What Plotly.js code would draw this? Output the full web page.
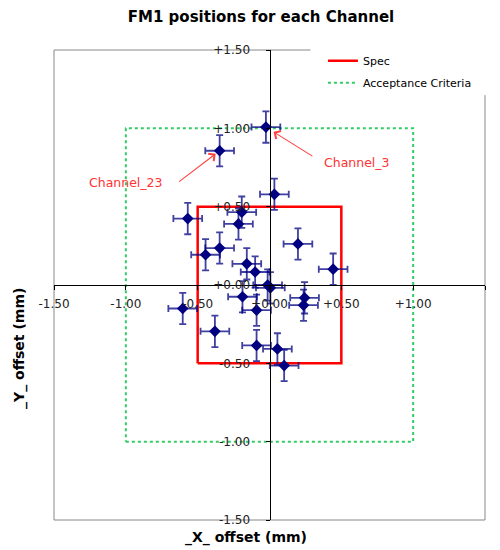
<!DOCTYPE html>
<html>
<head>
<meta charset="utf-8">
<script src="https://cdn.plot.ly/plotly-3.0.1.min.js"></script>
<style>html,body{margin:0;padding:0;background:#fff;}#chart{width:500px;height:550px;}</style>
</head>
<body>
<div id="chart"></div>
<script>
// Channel positions (mm)
const posX = [-0.569, -0.193, -0.216, -0.347, -0.445, 0.198, 0.443, -0.158, -0.100, -0.013, 0.006, -0.188, -0.090, 0.244, 0.237, -0.604, -0.380, -0.090, 0.055, 0.102, -0.025, -0.347, 0.034];
const posY = [0.424, 0.465, 0.390, 0.236, 0.193, 0.262, 0.101, 0.135, 0.083, 0.000, -0.018, -0.075, -0.161, -0.082, -0.129, -0.150, -0.296, -0.386, -0.408, -0.514, 1.008, 0.857, 0.579];
const errX = [0.1, 0.1, 0.1, 0.1, 0.1, 0.1, 0.1, 0.1, 0.1, 0.1, 0.1, 0.1, 0.1, 0.1, 0.1, 0.1, 0.1, 0.1, 0.1, 0.1, 0.1, 0.1, 0.1];
const errY = [0.1, 0.1, 0.1, 0.1, 0.1, 0.1, 0.1, 0.1, 0.1, 0.1, 0.1, 0.1, 0.1, 0.1, 0.1, 0.1, 0.1, 0.1, 0.1, 0.1, 0.1, 0.1, 0.1];

// Spec box (±0.5) and acceptance criteria box (±1.0)
const specX = [-0.5, 0.5, 0.5, -0.5, -0.5];
const specY = [-0.5, -0.5, 0.5, 0.5, -0.5];
const accX = [-1.0, 1.0, 1.0, -1.0, -1.0];
const accY = [-1.0, -1.0, 1.0, 1.0, -1.0];

// Axis ticks
const tickVals = [-1.5, -1.0, -0.5, 0.0, 0.5, 1.0, 1.5];
const tickText = ['-1.50', '-1.00', '-0.50', '+0.00', '+0.50', '+1.00', '+1.50'];

// Labelled channels (point and label text position)
const labelNames = ['Channel_23', 'Channel_3'];
const labelX = [-0.347, -0.025];
const labelY = [0.857, 1.008];
const labelTextX = [-1.00, 0.61];
const labelTextY = [0.657, 0.785];

const FONT = 'DejaVu Sans, Verdana, sans-serif';

const traces = [
  {
    x: accX, y: accY, type: 'scatter', mode: 'lines', name: 'Acceptance Criteria',
    line: {color: '#33cc66', width: 2, dash: 'dot'}, legendgroup: 'b', legendrank: 2, hoverinfo: 'skip'
  },
  {
    x: specX, y: specY, type: 'scatter', mode: 'lines', name: 'Spec',
    line: {color: '#ff0000', width: 2.5}, legendgroup: 'a', legendrank: 1, hoverinfo: 'skip'
  },
  {
    x: posX, y: posY, type: 'scatter', mode: 'markers', name: 'FM1', showlegend: false,
    marker: {symbol: 'diamond', size: 9, color: '#000080'},
    error_x: {type: 'data', array: errX, visible: true, color: 'rgba(0,0,128,0.75)', thickness: 1.8, width: 3.5},
    error_y: {type: 'data', array: errY, visible: true, color: 'rgba(0,0,128,0.75)', thickness: 1.8, width: 3.5}
  }
];

const axisCommon = {
  range: [-1.5, 1.5], tickvals: tickVals, ticktext: tickText, showgrid: false, zeroline: false,
  showline: true, linecolor: '#000', linewidth: 1, ticks: 'outside', ticklen: 4, tickcolor: '#000',
  tickfont: {family: FONT, size: 12, color: '#222'}, anchor: 'free', position: 0.5, fixedrange: true
};

const layout = {
  width: 500, height: 550,
  margin: {l: 54, r: 15, t: 50, b: 30},
  paper_bgcolor: '#fff', plot_bgcolor: 'rgba(0,0,0,0)',
  font: {family: FONT},
  title: {text: 'FM1 positions for each Channel', font: {family: FONT, size: 15, weight: 'bold', color: '#000'},
          xref: 'container', yref: 'container', x: 0.522, y: 0.969, xanchor: 'center', yanchor: 'middle'},
  xaxis: Object.assign({}, axisCommon, {ticklabelstandoff: 4}),
  yaxis: Object.assign({}, axisCommon, {ticklabelstandoff: 13}),
  showlegend: true,
  legend: {x: 0.624, y: 1.008, xanchor: 'left', yanchor: 'top', bgcolor: '#fff', borderwidth: 0,
           traceorder: 'grouped', tracegroupgap: 3,
           font: {family: FONT, size: 11, color: '#000'}},
  shapes: [
    {type: 'line', xref: 'paper', yref: 'paper', x0: 0, x1: 0, y0: 0, y1: 1, line: {color: '#888', width: 1}, layer: 'below'},
    {type: 'line', xref: 'paper', yref: 'paper', x0: 0, x1: 1, y0: 0, y1: 0, line: {color: '#888', width: 1}, layer: 'below'},
    {type: 'line', xref: 'paper', yref: 'paper', x0: 0, x1: 0.595, y0: 1, y1: 1, line: {color: '#888', width: 1}, layer: 'below'},
    {type: 'line', xref: 'paper', yref: 'paper', x0: 1, x1: 1, y0: 0, y1: 0.904, line: {color: '#888', width: 1}, layer: 'below'}
  ],
  annotations: [
    {text: '_X_ offset (mm)', xref: 'paper', yref: 'paper', x: 0.445, y: -0.038, xanchor: 'center', yanchor: 'middle',
     showarrow: false, font: {family: FONT, size: 14, weight: 'bold', color: '#000'}},
    {text: '_Y_ offset (mm)', xref: 'paper', yref: 'paper', x: -0.079, y: 0.366, xanchor: 'center', yanchor: 'middle',
     textangle: -90, showarrow: false, font: {family: FONT, size: 14, weight: 'bold', color: '#000'}},
    // label texts
    {text: labelNames[0], x: labelTextX[0], y: labelTextY[0], xref: 'x', yref: 'y', showarrow: false,
     xanchor: 'center', yanchor: 'middle', font: {family: FONT, size: 12.5, color: '#ff3333'}},
    {text: labelNames[1], x: labelTextX[1], y: labelTextY[1], xref: 'x', yref: 'y', showarrow: false,
     xanchor: 'center', yanchor: 'middle', font: {family: FONT, size: 12.5, color: '#ff3333'}},
    // arrows
    {text: '', x: labelX[0], y: labelY[0], xref: 'x', yref: 'y', showarrow: true,
     ax: -42, ay: 32, arrowhead: 4, arrowsize: 1.6, arrowwidth: 1.1, arrowcolor: '#ff4040', standoff: 5},
    {text: '', x: labelX[1], y: labelY[1], xref: 'x', yref: 'y', showarrow: true,
     ax: 48, ay: 30, arrowhead: 4, arrowsize: 1.6, arrowwidth: 1.1, arrowcolor: '#ff4040', standoff: 9}
  ]
};

Plotly.newPlot('chart', traces, layout, {staticPlot: true, displayModeBar: false});
</script>
</body>
</html>
